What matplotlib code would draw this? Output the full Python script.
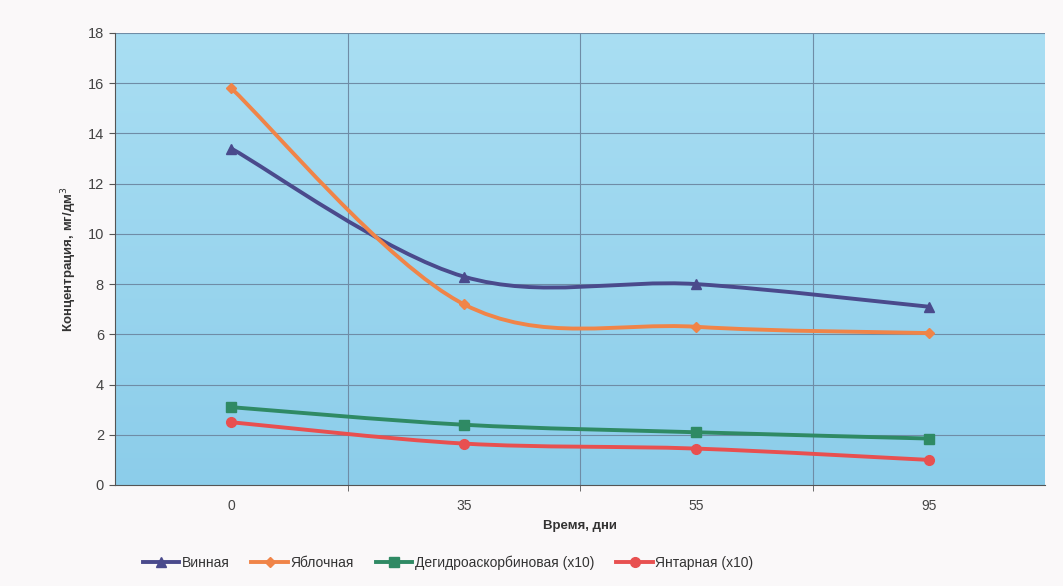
import numpy as np
import matplotlib
matplotlib.use("Agg")
import matplotlib.pyplot as plt
from matplotlib.path import Path
from matplotlib.patches import PathPatch
from matplotlib.lines import Line2D
from matplotlib.colors import LinearSegmentedColormap

plt.rcParams['font.family'] = ['Liberation Sans', 'DejaVu Sans']

categories = ["0", "35", "55", "95"]
vinnaya = [13.4, 8.3, 8.0, 7.1]
yablochnaya = [15.8, 7.2, 6.3, 6.05]
degidro = [3.1, 2.4, 2.1, 1.85]
yantarnaya = [2.5, 1.65, 1.45, 1.0]

series = [
    ("Винная", vinnaya, "#4a4a8c", "^"),
    ("Яблочная", yablochnaya, "#f08448", "D"),
    ("Дегидроаскорбиновая (x10)", degidro, "#2f8a64", "s"),
    ("Янтарная (x10)", yantarnaya, "#e85050", "o"),
]

fig = plt.figure(figsize=(10.63, 5.86), dpi=100)
fig.patch.set_facecolor("#faf8f9")
ax = fig.add_axes([115/1063, 1-485/586, 930/1063, 452/586])

x = np.arange(len(categories))
ax.set_xlim(-0.5, 3.5)
ax.set_ylim(0, 18)

# gradient background
grad = np.linspace(0, 1, 256).reshape(-1, 1)
cmap = LinearSegmentedColormap.from_list("bg", ["#8ccdea", "#a9def3"])
ax.imshow(grad, extent=(-0.5, 3.5, 0, 18), origin="lower", aspect="auto", cmap=cmap, zorder=0)

# grid
for gx in [0.5, 1.5, 2.5]:
    ax.axvline(gx, color="#6f8ca6", lw=0.8, zorder=1)
for gy in range(2, 19, 2):
    ax.axhline(gy, color="#6f8ca6", lw=0.8, zorder=1)

def smooth_path(xs, ys):
    xs = np.asarray(xs, float); ys = np.asarray(ys, float)
    verts = [(xs[0], ys[0])]
    codes = [Path.MOVETO]
    n = len(xs)
    for i in range(n - 1):
        p0 = np.array([xs[max(i-1, 0)], ys[max(i-1, 0)]])
        p1 = np.array([xs[i], ys[i]])
        p2 = np.array([xs[i+1], ys[i+1]])
        p3 = np.array([xs[min(i+2, n-1)], ys[min(i+2, n-1)]])
        c1 = p1 + (p2 - p0) / 6.0
        c2 = p2 - (p3 - p1) / 6.0
        verts += [tuple(c1), tuple(c2), tuple(p2)]
        codes += [Path.CURVE4] * 3
    return Path(verts, codes)

handles = []
for name, vals, col, mk in series:
    ax.add_patch(PathPatch(smooth_path(x, vals), facecolor="none", edgecolor=col, lw=2.8, zorder=3))
    ms = 7 if mk != "D" else 5.5
    ax.plot(x, vals, linestyle="none", marker=mk, color=col, markersize=ms, zorder=4)
    handles.append(Line2D([], [], color=col, lw=2.8, marker=mk, markersize=ms))

ax.set_xticks(x)
ax.set_xticklabels(categories)
ax.set_xticks([0.5, 1.5, 2.5], minor=True)
ax.tick_params(axis="x", which="major", length=0, pad=10, labelsize=10, colors="#444444")
ax.tick_params(axis="x", which="minor", length=4, color="#555555")
ax.set_yticks(range(0, 19, 2))
ax.tick_params(axis="y", length=4, color="#555555", labelsize=10.5, labelcolor="#444444", pad=4)

for side in ["top", "right"]:
    ax.spines[side].set_visible(False)
ax.spines["left"].set_color("#555555")
ax.spines["bottom"].set_color("#555555")

ax.set_ylabel("Концентрация, мг/дм$^3$", fontsize=9.5, fontweight="bold", color="#333333", labelpad=6)
ax.set_xlabel("Время, дни", fontsize=9.5, fontweight="bold", color="#333333", labelpad=5)

fig.legend(handles, [s[0] for s in series], loc="center", bbox_to_anchor=(448/1063, 1-563/586),
           ncol=4, frameon=False, fontsize=10, handlelength=2.6, columnspacing=1.6,
           handletextpad=0.2, labelcolor="#333333")

fig.savefig("out.png", dpi=100, facecolor=fig.get_facecolor())
